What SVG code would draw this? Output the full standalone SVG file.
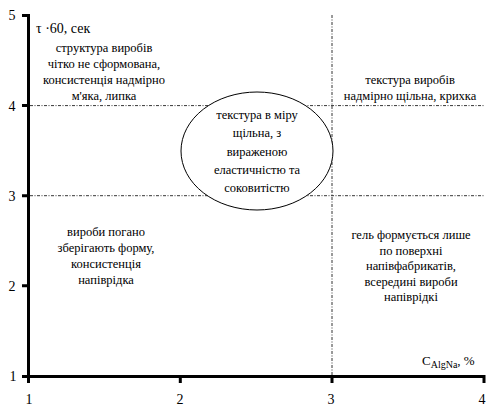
<svg xmlns="http://www.w3.org/2000/svg" width="486" height="406" viewBox="0 0 486 406" font-family="Liberation Serif, serif">
<style>
text{font-family:'Liberation Serif','Times New Roman',serif;fill:#000}
.lbl{font-size:12.5px;text-anchor:middle}
.tick{font-size:14px;text-anchor:middle}
.ax{stroke:#000;stroke-width:3;fill:none}
.grid{stroke:#000;stroke-width:0.8;stroke-dasharray:3,1.5,1,1.5;fill:none}
</style>
<rect width="486" height="406" fill="#fff"/>
<g id="grid">
<line class="grid" x1="30" y1="105.6" x2="484" y2="105.6"/>
<line class="grid" x1="30" y1="195.7" x2="484" y2="195.7"/>
<line class="grid" x1="332" y1="15" x2="332" y2="376"/>
</g>
<g id="axes">
<path class="ax" d="M28.5,14 V383 M22,376.5 H484 V383"/>
<path class="ax" d="M22,15.5 H28.5 M22,105.6 H28.5 M22,195.7 H28.5 M22,285.8 H28.5 M180.3,376.5 V383 M332,376.5 V383"/>
<text class="tick" x="12" y="20">5</text>
<text class="tick" x="12" y="111">4</text>
<text class="tick" x="12" y="201">3</text>
<text class="tick" x="12" y="291">2</text>
<text class="tick" x="13" y="381">1</text>
<text class="tick" x="29" y="404">1</text>
<text class="tick" x="180" y="404">2</text>
<text class="tick" x="331" y="404">3</text>
<text class="tick" x="482" y="404">4</text>
<text x="36" y="33" style="font-size:14px">τ ·60, сек</text>
<text x="422" y="365" style="font-size:13px">C<tspan style="font-size:10px" dy="3">AlgNa</tspan><tspan dy="-3">, %</tspan></text>
</g>
<g id="top-left">
<text class="lbl" x="104" y="52">структура виробів</text>
<text class="lbl" x="104" y="68">чітко не сформована,</text>
<text class="lbl" x="104" y="84">консистенція надмірно</text>
<text class="lbl" x="104" y="100">м'яка, липка</text>
</g>
<g id="top-right">
<text class="lbl" x="410" y="84">текстура виробів</text>
<text class="lbl" x="410" y="100">надмірно щільна, крихка</text>
</g>
<g id="center">
<ellipse cx="257" cy="151" rx="76" ry="59" fill="#fff" stroke="#000" stroke-width="1"/>
<text class="lbl" x="257" y="119">текстура в міру</text>
<text class="lbl" x="257" y="137">щільна, з</text>
<text class="lbl" x="257" y="156">вираженою</text>
<text class="lbl" x="257" y="174">еластичністю та</text>
<text class="lbl" x="257" y="192">соковитістю</text>
</g>
<g id="bottom-left">
<text class="lbl" x="106" y="236">вироби погано</text>
<text class="lbl" x="106" y="252">зберігають форму,</text>
<text class="lbl" x="106" y="268">консистенція</text>
<text class="lbl" x="106" y="284">напіврідка</text>
</g>
<g id="bottom-right">
<text class="lbl" x="411" y="239">гель формується лише</text>
<text class="lbl" x="411" y="255">по поверхні</text>
<text class="lbl" x="411" y="270">напівфабрикатів,</text>
<text class="lbl" x="411" y="286">всередині вироби</text>
<text class="lbl" x="411" y="301">напіврідкі</text>
</g>
</svg>
